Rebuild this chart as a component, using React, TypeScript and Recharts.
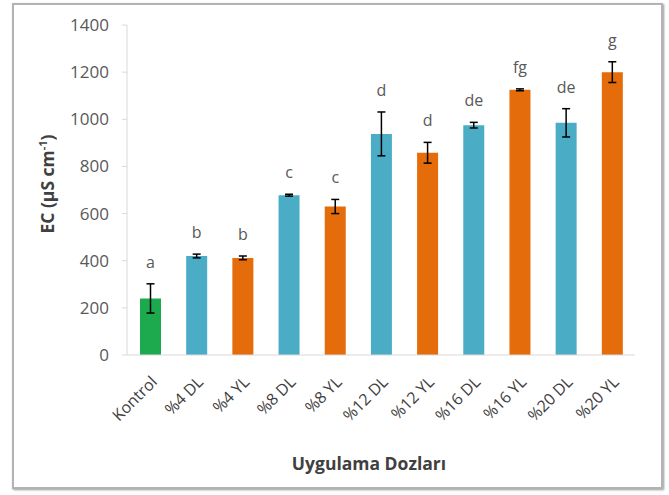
import { Bar, BarChart, Cell, ErrorBar, LabelList, XAxis, YAxis, Label } from 'recharts';

const COLORS = {
    control: '#1DAA4F',
    dl: '#4BACC6',
    yl: '#E46C0A',
};

const categories = ['Kontrol', '%4 DL', '%4 YL', '%8 DL', '%8 YL', '%12 DL', '%12 YL', '%16 DL', '%16 YL', '%20 DL', '%20 YL'];
const ecValues = [240, 420, 412, 678, 630, 938, 858, 975, 1125, 985, 1200];
const ecErrors = [62, 8, 8, 4, 30, 93, 44, 12, 4, 60, 44];
const letters = ['a', 'b', 'b', 'c', 'c', 'd', 'd', 'de', 'fg', 'de', 'g'];
const yTicks = [0, 200, 400, 600, 800, 1000, 1200, 1400];

const data = categories.map((name, i) => ({
    name,
    ec: ecValues[i],
    err: ecErrors[i],
    letter: letters[i],
}));

const barColor = (name: string) => (name === 'Kontrol' ? COLORS.control : name.endsWith('DL') ? COLORS.dl : COLORS.yl);

const FONT = '"Open Sans", "Noto Sans", sans-serif';

// letter sits above the error bar cap
const LetterLabel = (props: any) => {
    const { x, y, width, height, index } = props;
    const d = data[index];
    if (!d) return null;
    const pxPerUnit = height / d.ec;
    const capY = y - d.err * pxPerUnit;
    return (
        <text x={x + width / 2} y={capY - 16} textAnchor="middle" fill="#595959" fontSize={16} fontFamily={FONT}>
            {d.letter}
        </text>
    );
};

const XTick = (props: any) => {
    const { x, y, payload } = props;
    const tx = x + 8;
    const ty = y + 20;
    return (
        <text
            x={tx}
            y={ty}
            textAnchor="end"
            fill="#404040"
            fontSize={16}
            fontFamily={FONT}
            transform={`rotate(-45, ${tx}, ${ty})`}
        >
            {payload.value}
        </text>
    );
};

export default function App() {
    return (
        <div style={{ position: 'fixed', left: 0, top: 0, width: 669, height: 495, background: '#fff', fontFamily: FONT }}>
            <div
                style={{
                    position: 'absolute',
                    left: 12,
                    top: 3,
                    width: 647,
                    height: 482,
                    border: '2px solid #b3b3b3',
                    boxShadow: '1px 1px 2px #999',
                }}
            />
            <div style={{ position: 'absolute', left: 0, top: 0 }}>
                <BarChart width={669} height={495} data={data} margin={{ top: 25, right: 34, left: 57, bottom: 0 }}>
                    <XAxis
                        dataKey="name"
                        interval={0}
                        tickLine={false}
                        axisLine={{ stroke: '#d9d9d9' }}
                        tick={<XTick />}
                        height={140}
                    >
                        <Label
                            content={() => (
                                <text x={369} y={470} textAnchor="middle" fill="#404040" fontSize={17.5} fontWeight={700} fontFamily={FONT}>
                                    Uygulama Dozları
                                </text>
                            )}
                        />
                    </XAxis>
                    <YAxis
                        width={70}
                        domain={[0, 1400]}
                        ticks={yTicks}
                        tickSize={5}
                        tickMargin={13}
                        tickLine={{ stroke: '#d9d9d9' }}
                        axisLine={{ stroke: '#d9d9d9' }}
                        tick={{ fill: '#595959', fontSize: 17, fontFamily: FONT }}
                    >
                        <Label
                            content={() => (
                                <text
                                    x={54}
                                    y={184}
                                    textAnchor="middle"
                                    fill="#404040"
                                    fontSize={17.5}
                                    fontWeight={700}
                                    fontFamily={FONT}
                                    transform="rotate(-90, 54, 184)"
                                >
                                    EC (µS cm
                                    <tspan dy={-7} fontSize={11}>
                                        -1
                                    </tspan>
                                    <tspan dy={7}>)</tspan>
                                </text>
                            )}
                        />
                    </YAxis>
                    <Bar dataKey="ec" barSize={21} isAnimationActive={false}>
                        {data.map((d) => (
                            <Cell key={d.name} fill={barColor(d.name)} />
                        ))}
                        <ErrorBar dataKey="err" width={4} stroke="#000" strokeWidth={1.5} direction="y" />
                        <LabelList dataKey="ec" content={<LetterLabel />} />
                    </Bar>
                </BarChart>
            </div>
        </div>
    );
}
